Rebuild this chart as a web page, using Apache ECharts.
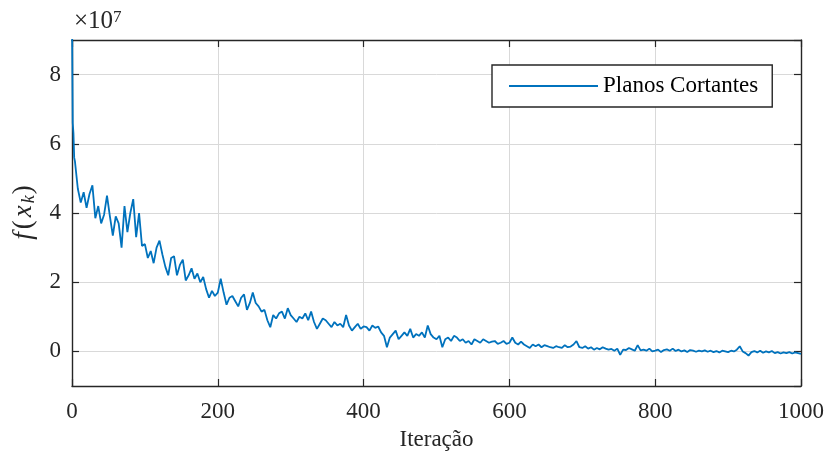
<!DOCTYPE html>
<html>
<head>
<meta charset="utf-8">
<script src="https://cdn.jsdelivr.net/npm/echarts@6/dist/echarts.min.js"></script>
<style>html,body{margin:0;padding:0;background:#fff}#c{width:828px;height:456px}</style>
</head>
<body>
<div id="c"></div>
<script>
// Iteration numbers (x) and objective values f(x_k) in units of 1e7 (y)
const iters = [0,1,2,3,
4,8,12,16,20,24,28,32,36,40,
44,48,52,56,60,64,68,72,76,80,
84,88,92,96,100,104,108,112,116,120,
124,128,132,136,140,144,148,152,156,160,
164,168,172,176,180,184,188,192,196,200,
204,208,212,216,220,224,228,232,236,240,
244,248,252,256,260,264,268,272,276,280,
284,288,292,296,300,304,308,312,316,320,
324,328,332,336,340,344,348,352,356,360,
364,368,372,376,380,384,388,392,396,400,
404,408,412,416,420,424,428,432,436,440,
444,448,452,456,460,464,468,472,476,480,
484,488,492,496,500,504,508,512,516,520,
524,528,532,536,540,544,548,552,556,560,
564,568,572,576,580,584,588,592,596,600,
604,608,612,616,620,624,628,632,636,640,
644,648,652,656,660,664,668,672,676,680,
684,688,692,696,700,704,708,712,716,720,
724,728,732,736,740,744,748,752,756,760,
764,768,772,776,780,784,788,792,796,800,
804,808,812,816,820,824,828,832,836,840,
844,848,852,856,860,864,868,872,876,880,
884,888,892,896,900,904,908,912,916,920,
924,928,932,936,940,944,948,952,956,960,
964,968,972,976,980,984,988,992,996,1000];
const fvals = [9.6,6.6,6.3,5.6,
5.5,4.7,4.3,4.6,4.15,4.55,4.8,3.85,4.2,3.7,
3.95,4.5,3.9,3.35,3.9,3.7,3.0,4.2,3.45,4.0,
4.4,3.3,4.0,3.05,3.1,2.7,2.9,2.55,3.0,3.2,
2.8,2.45,2.2,2.7,2.75,2.2,2.5,2.65,2.05,2.2,
2.4,2.1,2.25,2.0,2.15,1.8,1.55,1.75,1.6,1.7,
2.1,1.7,1.35,1.55,1.6,1.45,1.3,1.55,1.65,1.2,
1.4,1.7,1.4,1.3,1.15,1.2,0.9,0.7,1.05,0.95,
1.1,1.15,0.95,1.25,1.05,0.95,0.85,1.0,0.95,1.1,
0.9,1.15,0.85,0.65,0.8,0.95,0.9,0.8,0.7,0.85,
0.75,0.8,0.7,1.05,0.75,0.6,0.7,0.8,0.65,0.72,
0.7,0.6,0.75,0.68,0.72,0.55,0.45,0.12,0.4,0.5,
0.6,0.35,0.45,0.55,0.45,0.65,0.4,0.5,0.45,0.55,
0.4,0.75,0.5,0.4,0.35,0.45,0.12,0.35,0.4,0.3,
0.45,0.4,0.3,0.35,0.25,0.3,0.2,0.35,0.3,0.25,
0.35,0.3,0.25,0.28,0.3,0.22,0.25,0.3,0.22,0.25,
0.4,0.25,0.2,0.28,0.2,0.15,0.1,0.2,0.15,0.2,
0.12,0.18,0.15,0.12,0.1,0.15,0.12,0.1,0.18,0.12,
0.14,0.2,0.3,0.12,0.1,0.15,0.08,0.12,0.05,0.1,
0.06,0.12,0.08,0.05,0.07,0.02,0.08,-0.1,0.05,0.04,
0.1,0.06,0.02,0.18,0.03,0.05,0.02,0.08,0.0,0.02,
0.05,-0.02,0.04,0.06,0.02,0.08,0.01,0.05,0.0,0.03,
-0.02,0.04,0.02,-0.01,0.02,0.0,0.03,-0.01,0.02,-0.02,
0.01,-0.03,0.02,0.0,-0.02,0.02,0.0,0.05,0.15,0.0,
-0.05,-0.12,-0.02,0.01,-0.03,0.02,-0.04,0.0,-0.03,0.01,
-0.05,-0.02,-0.06,-0.03,-0.05,-0.02,-0.06,-0.03,-0.05,-0.07];
const seriesName = 'Planos Cortantes';
const xTitle = 'Iteração';

const FONT = '"Liberation Serif", "Times New Roman", serif';
const TXT = '#262626';
const chart = echarts.init(document.getElementById('c'));
const data = iters.map((x, i) => [x, fvals[i]]);
const tick = {show: true, inside: true, length: 7, lineStyle: {color: TXT, width: 1.2}};
const axLine = {show: true, onZero: false, lineStyle: {color: TXT, width: 1.4}};
const grid = {show: true, lineStyle: {color: '#d9d9d9', width: 1}};
chart.setOption({
  animation: false,
  backgroundColor: '#fff',
  grid: {left: 72, right: 27, top: 40, bottom: 68, containLabel: false},
  xAxis: [{
    type: 'value', min: 0, max: 1000, interval: 200,
    name: xTitle, nameLocation: 'middle', nameGap: 42,
    nameTextStyle: {fontFamily: FONT, fontSize: 23, color: TXT},
    axisLine: axLine, axisTick: tick,
    axisLabel: {fontFamily: FONT, fontSize: 23, color: TXT, margin: 14, formatter: v => String(v)},
    splitLine: grid
  }, {
    type: 'value', min: 0, max: 1000, interval: 200, position: 'top',
    axisLine: axLine, axisTick: tick, axisLabel: {show: false}, splitLine: {show: false}
  }],
  yAxis: [{
    type: 'value', min: -1, max: 9, splitNumber: 5,
    name: '{i|f}{n|(}{i|x}{s|k}{n|)}', nameLocation: 'middle', nameGap: 33, nameRotate: 90,
    nameTextStyle: {
      rich: {
        i: {fontFamily: FONT, fontStyle: 'italic', fontSize: 27, color: TXT, padding: [0, 2, 0, 2]},
        n: {fontFamily: FONT, fontSize: 27, color: TXT, padding: [0, 1, 0, 1]},
        s: {fontFamily: FONT, fontStyle: 'italic', fontSize: 18, color: TXT, verticalAlign: 'bottom', padding: [12, 0, 0, 0]}
      }
    },
    axisLine: axLine, axisTick: tick,
    axisLabel: {fontFamily: FONT, fontSize: 23, color: TXT, margin: 11, showMinLabel: false, showMaxLabel: false},
    splitLine: grid
  }, {
    type: 'value', min: -1, max: 9, splitNumber: 5, position: 'right',
    axisLine: axLine, axisTick: tick, axisLabel: {show: false}, splitLine: {show: false}
  }],
  legend: {
    left: 492, top: 65,
    padding: [8, 14, 8, 17],
    itemWidth: 89, itemHeight: 2, itemGap: 0,
    backgroundColor: '#fff', borderColor: TXT, borderWidth: 1.4, borderRadius: 0,
    textStyle: {fontFamily: FONT, fontSize: 23, color: '#000', lineHeight: 26},
    data: [{name: seriesName, icon: 'rect'}]
  },
  graphic: [{
    type: 'text', left: 74, top: 9, z: 10,
    style: {
      text: '{a|×10}{b|7}',
      rich: {
        a: {fontFamily: FONT, fontSize: 25, fill: TXT, verticalAlign: 'bottom'},
        b: {fontFamily: FONT, fontSize: 17, fill: TXT, verticalAlign: 'top'}
      }
    }
  }],
  series: [{
    name: seriesName, type: 'line', data: data,
    xAxisIndex: 0, yAxisIndex: 0,
    symbol: 'none', showSymbol: false, clip: true,
    lineStyle: {color: '#0072BD', width: 1.8},
    itemStyle: {color: '#0072BD'}
  }]
});
</script>
</body>
</html>
